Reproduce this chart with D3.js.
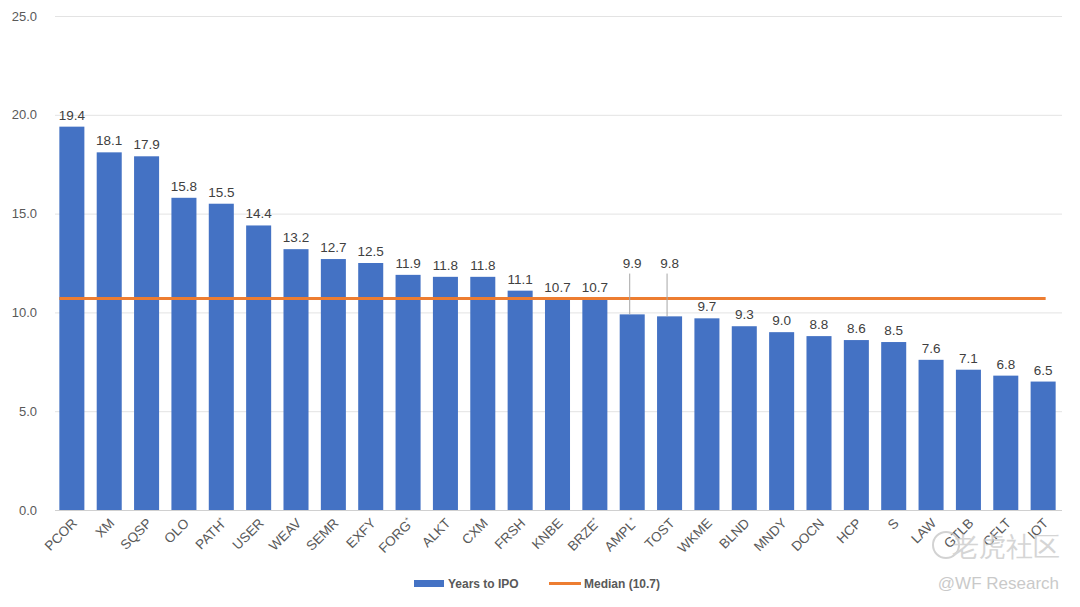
<!DOCTYPE html>
<html>
<head>
<meta charset="utf-8">
<script src="https://cdn.jsdelivr.net/npm/d3@7"></script>
<style>
  body { margin: 0; background: #fff; }
  text { font-family: Arial, "Liberation Sans", sans-serif; }
</style>
</head>
<body>
<div class="c_chart"></div>
<script>
/* DATA
------------------------------------------------------ */
const tickers = ["PCOR", "XM", "SQSP", "OLO", "PATH*", "USER", "WEAV", "SEMR", "EXFY", "FORG*",
  "ALKT", "CXM", "FRSH", "KNBE", "BRZE*", "AMPL*", "TOST", "WKME", "BLND", "MNDY",
  "DOCN", "HCP", "S", "LAW", "GTLB", "CFLT", "IOT"];
const yearsToIpo = [19.4, 18.1, 17.9, 15.8, 15.5, 14.4, 13.2, 12.7, 12.5, 11.9,
  11.8, 11.8, 11.1, 10.7, 10.7, 9.9, 9.8, 9.7, 9.3, 9.0,
  8.8, 8.6, 8.5, 7.6, 7.1, 6.8, 6.5];
const median = 10.7;
const yTicks = [0, 5, 10, 15, 20, 25];
const liftedLabels = ["AMPL*", "TOST"]; // labels pushed above the median line

/* SVG
------------------------------------------------------ */
const width = 1080;
const height = 607;
const margin = {top: 16, right: 18, bottom: 97, left: 52};

let svg = d3.select(".c_chart")
  .append("svg")
  .attr("width", width)
  .attr("height", height);

let x = d3.scaleBand()
  .domain(tickers)
  .range([margin.left + 1, width - margin.right])
  .paddingInner(0.33)
  .paddingOuter(0.17);

let y = d3.scaleLinear()
  .domain([0, 25])
  .range([height - margin.bottom, margin.top]);

/* GRID + Y AXIS */
svg.append("g")
  .selectAll("line")
  .data(yTicks)
  .enter()
  .append("line")
  .attr("x1", margin.left + 3)
  .attr("x2", width - margin.right)
  .attr("y1", d => y(d) + 0.5)
  .attr("y2", d => y(d) + 0.5)
  .attr("stroke", d => d === 0 ? "#d0d0d0" : "#e3e3e3")
  .attr("stroke-width", 1);

svg.append("g")
  .selectAll("text")
  .data(yTicks)
  .enter()
  .append("text")
  .attr("x", 37)
  .attr("y", d => y(d) + 4.5)
  .attr("text-anchor", "end")
  .attr("font-size", 13)
  .attr("fill", "#595959")
  .text(d3.format(".1f"));

/* BARS */
svg.append("g")
  .selectAll("rect")
  .data(tickers)
  .enter()
  .append("rect")
  .attr("x", d => x(d))
  .attr("y", (d, i) => y(yearsToIpo[i]))
  .attr("width", x.bandwidth())
  .attr("height", (d, i) => y(0) - y(yearsToIpo[i]))
  .attr("fill", "#4472C4");

/* MEDIAN */
svg.append("line")
  .attr("x1", x(tickers[0]))
  .attr("x2", x(tickers[tickers.length - 1]) + x.bandwidth() - 10)
  .attr("y1", y(median))
  .attr("y2", y(median))
  .attr("stroke", "#ED7D31")
  .attr("stroke-width", 3);

/* VALUE LABELS */
const labelY = (d, i) => liftedLabels.includes(d) ? y(median) - 31 : y(yearsToIpo[i]) - 7;

svg.append("g")
  .selectAll("line")
  .data(tickers.filter(d => liftedLabels.includes(d)))
  .enter()
  .append("line")
  .attr("x1", d => x(d) + x.bandwidth() / 2 - 2.5)
  .attr("x2", d => x(d) + x.bandwidth() / 2 - 2.5)
  .attr("y1", y(median) - 25)
  .attr("y2", d => y(yearsToIpo[tickers.indexOf(d)]))
  .attr("stroke", "#a6a6a6")
  .attr("stroke-width", 1);

svg.append("g")
  .selectAll("text")
  .data(tickers)
  .enter()
  .append("text")
  .attr("x", d => x(d) + x.bandwidth() / 2)
  .attr("y", labelY)
  .attr("text-anchor", "middle")
  .attr("font-size", 13.5)
  .attr("fill", "#404040")
  .text((d, i) => d3.format(".1f")(yearsToIpo[i]));

/* X LABELS */
let xl = svg.append("g")
  .selectAll("text")
  .data(tickers)
  .enter()
  .append("text")
  .attr("text-anchor", "end")
  .attr("font-size", 13.5)
  .attr("fill", "#595959")
  .attr("transform", d => `translate(${x(d) + x.bandwidth() / 2 + 6},${y(0) + 14}) rotate(-45)`);

xl.append("tspan").text(d => d.replace("*", ""));
xl.filter(d => d.endsWith("*"))
  .append("tspan")
  .attr("font-size", 8)
  .attr("dy", -5)
  .text("*");

/* LEGEND */
let legend = svg.append("g").attr("font-size", 12).attr("font-weight", "bold").attr("fill", "#595959");
legend.append("rect").attr("x", 414).attr("y", 580).attr("width", 30).attr("height", 7).attr("fill", "#4472C4");
legend.append("text").attr("x", 448).attr("y", 588).text("Years to IPO");
legend.append("line").attr("x1", 549).attr("x2", 581).attr("y1", 583.5).attr("y2", 583.5)
  .attr("stroke", "#ED7D31").attr("stroke-width", 3);
legend.append("text").attr("x", 584).attr("y", 588).text("Median (10.7)");

/* WATERMARK */
let wm = svg.append("g").attr("opacity", 0.75);
wm.append("circle").attr("cx", 946).attr("cy", 545).attr("r", 13)
  .attr("fill", "none").attr("stroke", "#c4c4c4").attr("stroke-width", 2);
wm.append("text").attr("x", 1060).attr("y", 556).attr("text-anchor", "end")
  .attr("font-family", "Noto Sans CJK SC").attr("font-size", 27).attr("fill", "#c8c8c8")
  .text("老虎社区");
wm.append("text").attr("x", 1059).attr("y", 589).attr("text-anchor", "end")
  .attr("font-family", "Open Sans").attr("font-size", 17).attr("fill", "#b8b8b8")
  .text("@WF Research");
</script>
</body>
</html>
